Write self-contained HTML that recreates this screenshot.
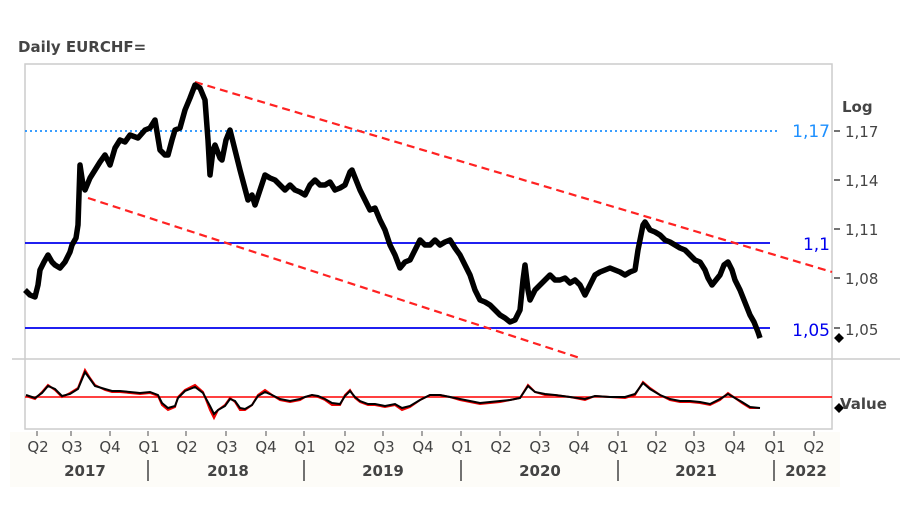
<!DOCTYPE html><html><head><meta charset="utf-8"><style>body{margin:0;background:#fff}svg{display:block}text{font-family:"DejaVu Sans","Liberation Sans",sans-serif}</style></head><body>
<svg width="900" height="506" xmlns="http://www.w3.org/2000/svg">
<rect width="900" height="506" fill="#fff"/>
<rect x="10" y="432" width="830" height="55" fill="#fdfcf8"/>
<text x="18" y="52" font-size="15" font-weight="bold" fill="#444">Daily EURCHF=</text>
<rect x="25" y="64" width="807" height="365" fill="none" stroke="#ccc" stroke-width="1.5"/>
<line x1="12" y1="359" x2="900" y2="359" stroke="#ccc" stroke-width="1.5"/>
<line x1="25" y1="131" x2="778" y2="131" stroke="#1e90ff" stroke-width="1.8" stroke-dasharray="2,3"/>
<line x1="25" y1="243" x2="770" y2="243" stroke="#0000ee" stroke-width="1.8"/>
<line x1="25" y1="328" x2="770" y2="328" stroke="#0000ee" stroke-width="1.8"/>
<line x1="195" y1="82" x2="832" y2="272" stroke="#f22" stroke-width="2.2" stroke-dasharray="8,5"/>
<line x1="88" y1="198" x2="580" y2="358" stroke="#f22" stroke-width="2.2" stroke-dasharray="8,5"/>
<text x="830" y="137" font-size="17" fill="#1e90ff" text-anchor="end">1,17</text>
<text x="830" y="250" font-size="17" fill="#0000ee" text-anchor="end">1,1</text>
<text x="830" y="336" font-size="17" fill="#0000ee" text-anchor="end">1,05</text>
<g fill="#444" font-size="15"><text x="842" y="112" font-weight="bold">Log</text>
<text x="845" y="137">1,17</text><text x="845" y="186">1,14</text><text x="845" y="235">1,11</text><text x="845" y="284">1,08</text><text x="845" y="335">1,05</text>
<text x="840" y="409" font-weight="bold">Value</text></g>
<g stroke="#444" stroke-width="1.5"><line x1="834" y1="131" x2="840" y2="131"/><line x1="834" y1="180" x2="840" y2="180"/><line x1="834" y1="229" x2="840" y2="229"/><line x1="834" y1="278" x2="840" y2="278"/><line x1="834" y1="328" x2="840" y2="328"/></g>
<path d="M839 333l5 5-5 5-5-5z M839 403l5 5-5 5-5-5z" fill="#000"/>
<polyline fill="none" stroke="#000" stroke-width="5.5" stroke-linejoin="round" points="25,290 30,295 35,297 38,285 40,270 44,262 48,255 52,262 55,265 60,268 65,262 70,252 72,245 76,238 78,225 80,165 83,185 85,190 90,178 95,170 100,162 105,155 110,165 115,148 120,140 125,142 130,135 138,138 145,130 150,128 155,120 158,138 160,150 165,155 168,155 172,140 175,130 180,128 185,110 190,98 195,85 200,88 205,100 208,140 210,175 213,150 215,145 220,158 222,160 226,140 230,130 235,150 240,170 244,185 248,200 252,195 255,205 260,190 265,175 270,178 275,180 280,185 285,190 290,185 295,190 300,192 305,195 310,185 315,180 320,185 325,185 330,182 335,190 340,188 345,185 350,172 352,170 356,180 360,190 365,200 370,210 375,208 380,220 385,230 390,245 395,255 400,268 405,262 410,260 415,250 420,240 425,245 430,245 435,240 440,245 445,242 450,240 455,248 460,255 465,265 470,275 475,290 480,300 485,302 490,305 495,310 500,315 505,318 510,322 515,320 520,310 523,280 525,265 528,290 530,300 535,290 540,285 545,280 550,275 555,280 560,280 565,278 570,283 575,280 580,285 585,295 590,285 595,275 600,272 605,270 610,268 615,270 620,272 625,275 630,272 635,270 638,250 640,240 643,225 645,222 650,230 655,232 660,235 665,240 670,242 675,245 680,248 685,250 690,255 695,260 700,262 705,270 708,278 712,285 716,280 720,275 724,265 728,262 732,270 735,280 740,290 742,295 746,305 750,315 754,322 758,332 760,338"/>
<line x1="25" y1="397" x2="832" y2="397" stroke="#f00" stroke-width="1.5"/>
<polyline fill="none" stroke="#e00" stroke-width="2" points="26,396 35,399 42,392 48,385 55,390 62,397 70,393 78,388 85,370 90,378 95,385 105,390 112,392 120,392 130,393 140,394 150,393 158,396 162,405 168,410 175,407 178,397 185,390 195,385 203,392 210,410 214,418 218,410 225,405 230,398 235,402 240,410 245,410 252,405 258,395 265,390 272,395 280,400 290,402 300,400 305,397 312,395 318,397 325,400 332,405 340,405 345,395 350,390 355,398 360,402 368,405 375,405 385,407 395,405 402,410 410,407 420,400 430,395 440,395 450,397 460,400 470,402 480,404 490,403 500,402 510,400 520,398 528,385 535,392 545,395 555,395 570,397 585,400 595,396 610,397 625,398 635,395 643,382 650,388 660,395 670,400 680,402 690,402 700,403 710,405 720,400 728,393 735,398 742,403 750,408 760,408"/>
<polyline fill="none" stroke="#000" stroke-width="2" points="26,395 35,398 42,393 48,386 55,389 62,396 70,394 78,389 85,372 90,379 95,386 105,389 112,391 120,391 130,392 140,393 150,392 158,395 162,403 168,408 175,406 178,398 185,391 195,387 203,393 210,406 214,414 218,410 225,406 230,399 235,401 240,408 245,409 252,405 258,396 265,392 272,395 280,399 290,401 300,399 305,397 312,395 318,396 325,399 332,403 340,404 345,396 350,391 355,397 360,401 368,404 375,404 385,406 395,404 402,408 410,406 420,400 430,395 440,395 450,397 460,399 470,401 480,403 490,402 500,401 510,400 520,398 528,386 535,392 545,394 555,395 570,397 585,399 595,396 610,397 625,397 635,394 643,383 650,389 660,395 670,399 680,401 690,401 700,402 710,404 720,399 728,394 735,398 742,402 750,407 760,408"/>
<g stroke="#888" stroke-width="1.5">
<line x1="37" y1="431" x2="37" y2="436"/><line x1="71" y1="431" x2="71" y2="436"/><line x1="110" y1="431" x2="110" y2="436"/><line x1="148" y1="431" x2="148" y2="436"/><line x1="186" y1="431" x2="186" y2="436"/><line x1="226" y1="431" x2="226" y2="436"/><line x1="266" y1="431" x2="266" y2="436"/><line x1="304" y1="431" x2="304" y2="436"/><line x1="345" y1="431" x2="345" y2="436"/><line x1="383" y1="431" x2="383" y2="436"/><line x1="422" y1="431" x2="422" y2="436"/><line x1="461" y1="431" x2="461" y2="436"/><line x1="500" y1="431" x2="500" y2="436"/><line x1="540" y1="431" x2="540" y2="436"/><line x1="578" y1="431" x2="578" y2="436"/><line x1="618" y1="431" x2="618" y2="436"/><line x1="656" y1="431" x2="656" y2="436"/><line x1="694" y1="431" x2="694" y2="436"/><line x1="734" y1="431" x2="734" y2="436"/><line x1="774" y1="431" x2="774" y2="436"/><line x1="814" y1="431" x2="814" y2="436"/>
</g>
<g fill="#444" font-size="15" text-anchor="middle">
<text x="38" y="452">Q2</text><text x="72" y="452">Q3</text><text x="110" y="452">Q4</text><text x="149" y="452">Q1</text><text x="187" y="452">Q2</text><text x="227" y="452">Q3</text><text x="266" y="452">Q4</text><text x="305" y="452">Q1</text><text x="345" y="452">Q2</text><text x="384" y="452">Q3</text><text x="423" y="452">Q4</text><text x="462" y="452">Q1</text><text x="501" y="452">Q2</text><text x="540" y="452">Q3</text><text x="579" y="452">Q4</text><text x="618" y="452">Q1</text><text x="657" y="452">Q2</text><text x="695" y="452">Q3</text><text x="735" y="452">Q4</text><text x="775" y="452">Q1</text><text x="814" y="452">Q2</text>
<g font-weight="bold"><text x="85" y="476">2017</text><text x="228" y="476">2018</text><text x="383" y="476">2019</text><text x="540" y="476">2020</text><text x="696" y="476">2021</text><text x="806" y="476">2022</text></g></g>
<g stroke="#444" stroke-width="1.5"><line x1="148" y1="460" x2="148" y2="481"/><line x1="304" y1="460" x2="304" y2="481"/><line x1="461" y1="460" x2="461" y2="481"/><line x1="618" y1="460" x2="618" y2="481"/><line x1="774" y1="460" x2="774" y2="481"/></g>
</svg></body></html>
